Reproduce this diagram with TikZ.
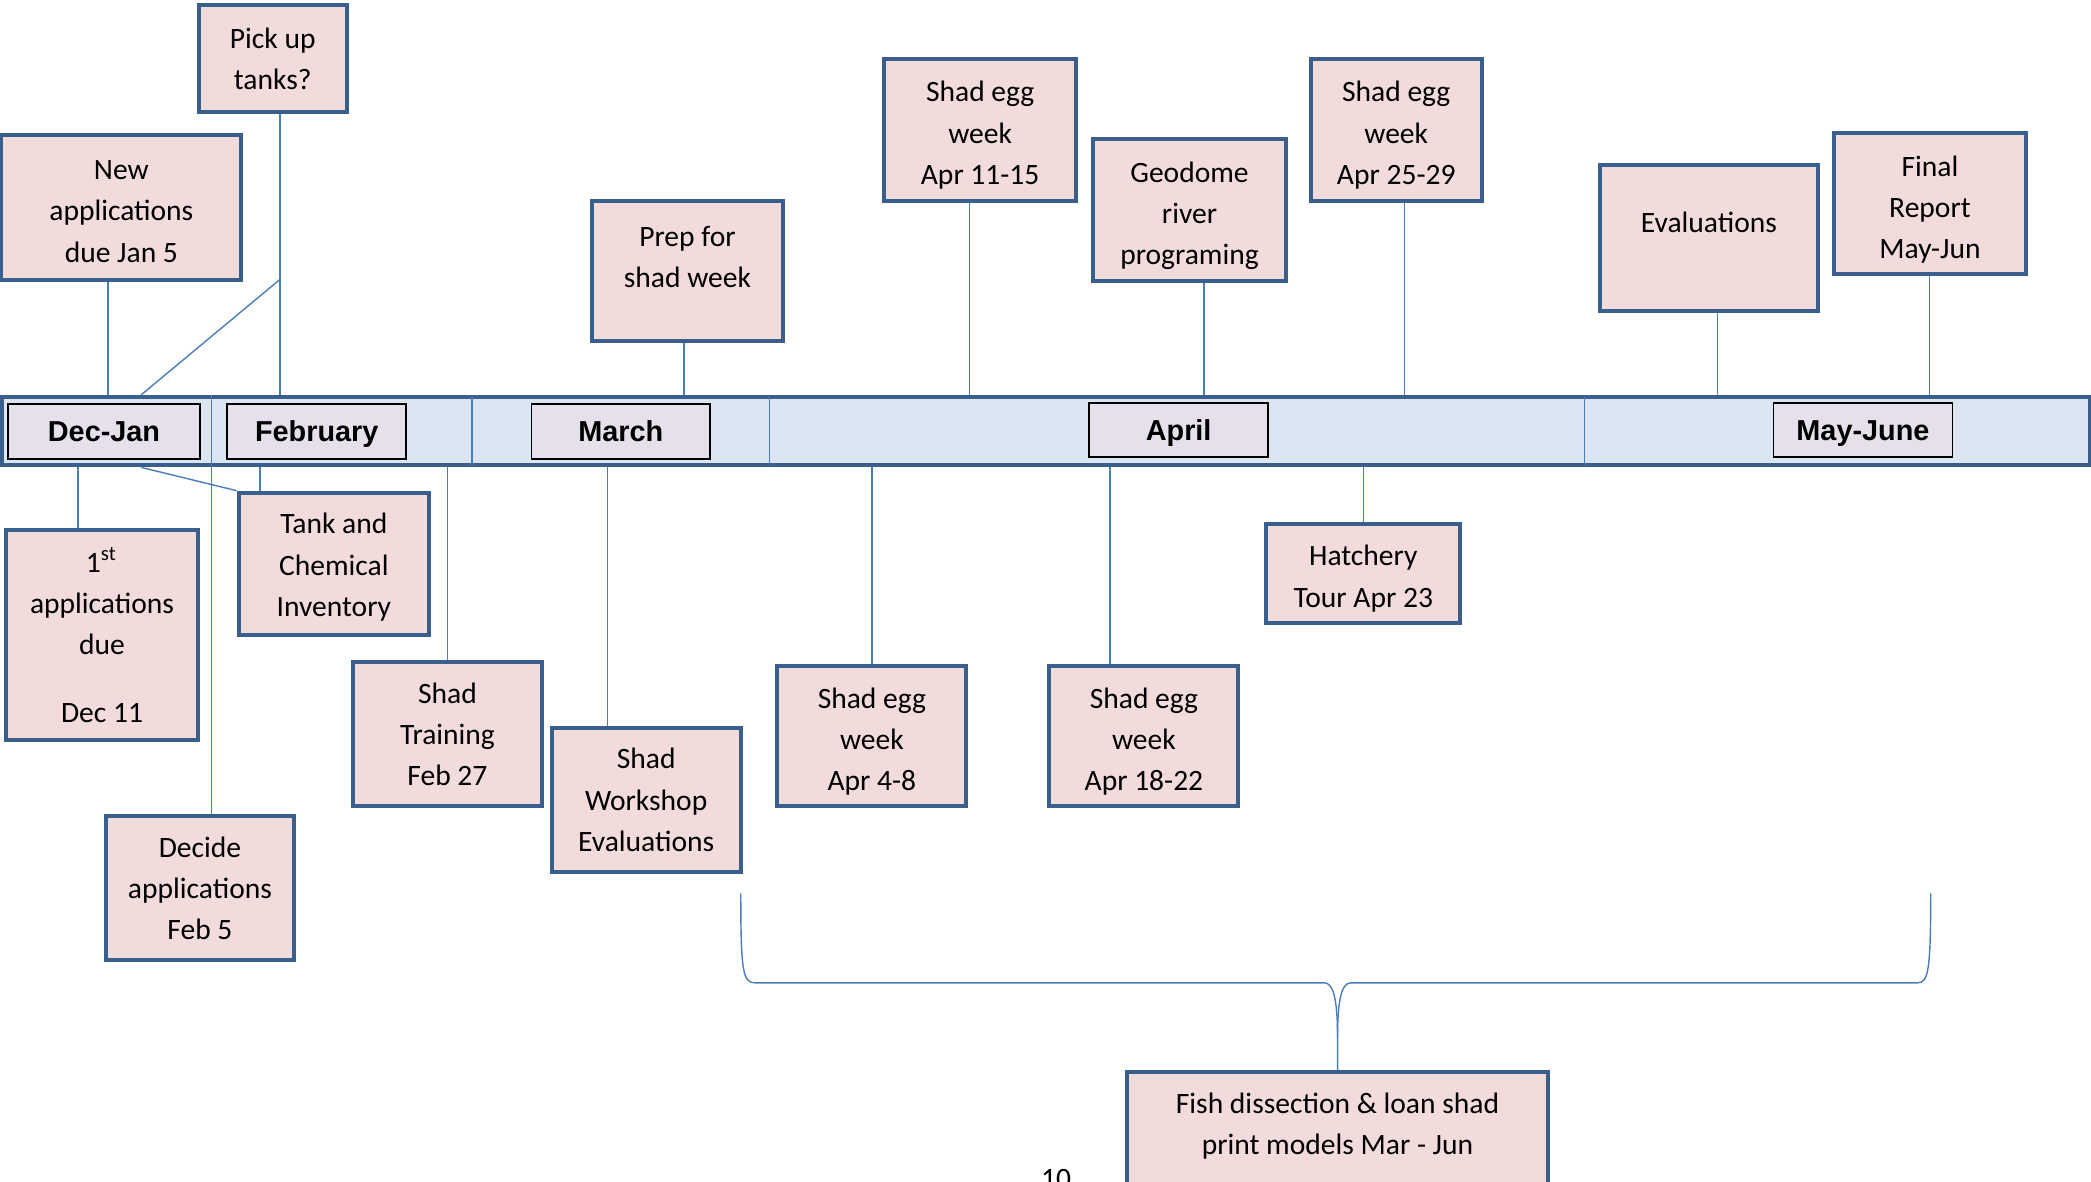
\documentclass[tikz,border=0pt]{standalone}
\usepackage{fontspec}
\setmainfont{Carlito}
\newfontfamily\monthfont{Liberation Sans}
\definecolor{eventfill}{HTML}{F2DCDB}
\definecolor{eventline}{HTML}{3A5F8D}
\definecolor{barfill}{HTML}{DCE6F2}
\definecolor{monthfill}{HTML}{E5E0EC}
\definecolor{linkline}{HTML}{4A7EBB}
% invisible struts to push the text of a box down or up
\newcommand{\padtop}[1]{\rule{0pt}{#1}}
\newcommand{\padbot}[1]{\rule[-#1]{0pt}{#1}}
\tikzset{
  event/.style={draw=eventline, line width=0.85pt, fill=eventfill, align=center,
    inner sep=0pt, font=\fontsize{6.3pt}{8.8pt}\selectfont},
  month/.style={draw=black, line width=0.35pt, fill=monthfill, inner sep=0pt,
    minimum width=1.34cm, minimum height=0.41cm, text height=4.4pt, text depth=0pt,
    font=\monthfont\bfseries\fontsize{6.15pt}{7pt}\selectfont},
  timebar/.style={draw=eventline, line width=0.85pt, fill=barfill, inner sep=0pt},
  link/.style={draw=linkline, line width=0.3pt},
}
\begin{document}
\begin{tikzpicture}[x=0.01cm, y=-0.01cm]
\useasboundingbox (0,0) rectangle (1568,886);
\clip (0,0) rectangle (1568,886);

% the time line
\node[timebar, minimum width=15.645cm, minimum height=0.515cm] (bar) at (784.25,323.25) {};
\foreach \x in {354,577,1188}
  \draw[link] (\x,297.5) -- (\x,349);
\node[month, minimum width=1.44cm] (decjan) at (78,323.6) {Dec-Jan};
\node[month] (feb) at (237.5,323.6) {February};
\node[month] (march) at (465.5,323.6) {March};
\node[month, minimum height=0.405cm] (april) at (883.85,322.25) {April};
\node[month, minimum height=0.405cm] (mayjune) at (1397,322.25) {May-June};

% above the line
\node[event, minimum width=1.11cm, minimum height=0.80cm] (pickup) at (204.5,44) {Pick up\\tanks?};
\node[event, minimum width=1.80cm, minimum height=1.09cm] (newapp) at (91,155.5) {\padtop{5.8pt}New\\applications\\due Jan 5};
\node[event, minimum width=1.43cm, minimum height=1.05cm] (prep) at (515.5,203.5) {Prep for\\shad week\padbot{6.3pt}};
\node[event, minimum width=1.44cm, minimum height=1.065cm] (egg11) at (735,97.75) {\padtop{6.5pt}Shad egg\\week\\Apr 11-15};
\node[event, minimum width=1.44cm, minimum height=1.06cm] (geodome) at (892,157.5) {\padtop{6.8pt}Geodome\\river\\programing};
\node[event, minimum width=1.28cm, minimum height=1.065cm] (egg25) at (1047,97.75) {\padtop{6.5pt}Shad egg\\week\\Apr 25-29};
\node[event, minimum width=1.63cm, minimum height=1.09cm] (evals) at (1281.5,178.5) {Evaluations\padbot{6.6pt}};
\node[event, minimum width=1.435cm, minimum height=1.055cm] (final) at (1447.25,152.75) {\padtop{7pt}Final\\Report\\May-Jun};

% below the line
\node[event, minimum width=1.436cm, minimum height=1.575cm] (first) at (76.5,476.25) {1\textsuperscript{st}\\applications\\due\\[5.7pt]Dec 11};
\node[event, minimum width=1.427cm, minimum height=1.065cm] (tank) at (250.35,422.75) {\padtop{5.9pt}Tank and\\Chemical\\Inventory};
\node[event, minimum width=1.417cm, minimum height=1.077cm] (training) at (335.55,550.55) {Shad\\Training\\Feb 27};
\node[event, minimum width=1.417cm, minimum height=1.077cm] (workshop) at (484.55,599.85) {Shad\\Workshop\\Evaluations};
\node[event, minimum width=1.413cm, minimum height=1.08cm] (decide) at (149.95,666) {Decide\\applications\\Feb 5};
\node[event, minimum width=1.416cm, minimum height=1.05cm] (egg4) at (653.8,551.9) {\padtop{6.8pt}Shad egg\\week\\Apr 4-8};
\node[event, minimum width=1.416cm, minimum height=1.05cm] (egg18) at (857.8,551.9) {\padtop{6.8pt}Shad egg\\week\\Apr 18-22};
\node[event, minimum width=1.454cm, minimum height=0.744cm] (hatchery) at (1022.3,430.2) {\padtop{6.5pt}Hatchery\\Tour Apr 23};
\node[event, minimum width=3.154cm, minimum height=1.08cm] (fish) at (1003,858) {Fish dissection \& loan shad\\print models Mar - Jun\padbot{8.7pt}};

% where the lines meet the bar
\coordinate (xNew) at (81,0);
\coordinate (xPick) at (210,0);
\coordinate (xDiag) at (106,0);
\coordinate (xPrep) at (513,0);
\coordinate (xEgg11) at (727,0);
\coordinate (xGeo) at (903,0);
\coordinate (xEgg25) at (1053,0);
\coordinate (xEvals) at (1288,0);
\coordinate (xFinal) at (1447,0);
\coordinate (xFirst) at (58.5,0);
\coordinate (xDecide) at (158.8,0);
\coordinate (xTank) at (195,0);
\coordinate (xTrain) at (335.5,0);
\coordinate (xShop) at (455.5,0);
\coordinate (xEgg4) at (654,0);
\coordinate (xEgg18) at (832.5,0);
\coordinate (xHatch) at (1022.4,0);
\coordinate (kink) at (210,209.5);

\draw[link] (xNew |- newapp.south) -- (xNew |- bar.north);
\draw[link] (xPick |- pickup.south) -- (xPick |- bar.north);
\draw[link] (kink) -- (xDiag |- bar.north);
\draw[link] (xPrep |- prep.south) -- (xPrep |- bar.north);
\draw[link] (xEgg11 |- egg11.south) -- (xEgg11 |- bar.north);
\draw[link] (xGeo |- geodome.south) -- (xGeo |- bar.north);
\draw[link] (xEgg25 |- egg25.south) -- (xEgg25 |- bar.north);
\draw[link] (xEvals |- evals.south) -- (xEvals |- bar.north);
\draw[link] (xFinal |- final.south) -- (xFinal |- bar.north);

\draw[link] (xFirst |- bar.south) -- (xFirst |- first.north);
\draw[link] (xDecide |- bar.north) -- (xDecide |- decide.north);
\draw[link] (xTank |- bar.south) -- (xTank |- tank.north);
\draw[link] (xDiag |- bar.south) -- (tank.north west);
\draw[link] (xTrain |- bar.south) -- (xTrain |- training.north);
\draw[link] (xShop |- bar.south) -- (xShop |- workshop.north);
\draw[link] (xEgg4 |- bar.south) -- (xEgg4 |- egg4.north);
\draw[link] (xEgg18 |- bar.south) -- (xEgg18 |- egg18.north);
\draw[link] (xHatch |- bar.south) -- (xHatch |- hatchery.north);

% brace over March - June
\draw[link] (555.5,670) .. controls (555.5,728) and (557,737) .. (566,737)
  -- (993,737) .. controls (1000,737) and (1003,750) .. (1003,778) -- (fish.north);
\draw[link] (1003,778) .. controls (1003,750) and (1006,737) .. (1013,737)
  -- (1438,737) .. controls (1446,737) and (1447.8,728) .. (1447.8,670);

\node[font=\fontsize{6.3pt}{8.8pt}\selectfont, anchor=base, inner sep=0pt] (page) at (792,891) {10};
\end{tikzpicture}
\end{document}
